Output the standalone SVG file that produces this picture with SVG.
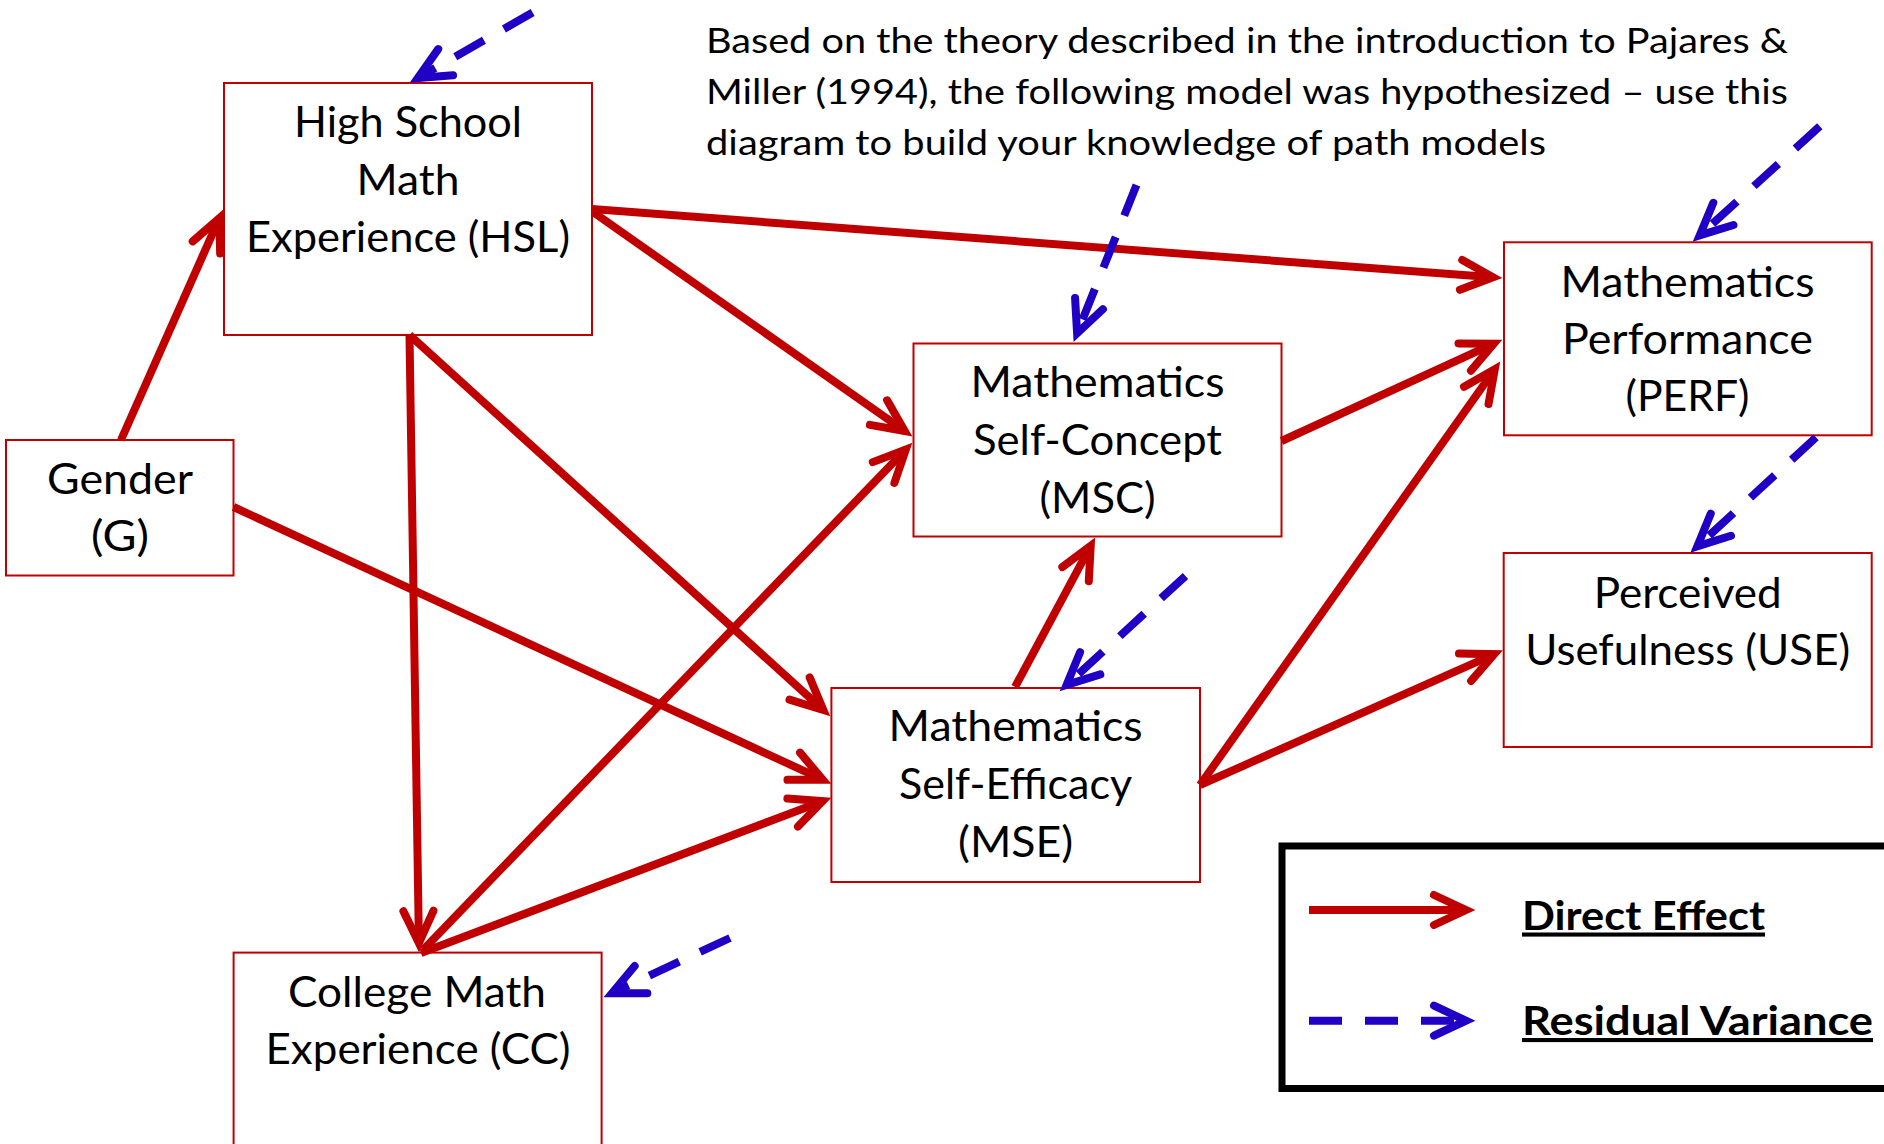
<svg xmlns="http://www.w3.org/2000/svg" width="1884" height="1144" viewBox="0 0 1884 1144">
<style>
.box{fill:#ffffff;stroke:#C00000;stroke-width:2}
.lbl{font-family:Lato,"Open Sans","DejaVu Sans",sans-serif;font-size:42px;fill:#000;text-anchor:middle}
.title{font-family:Lato,"Open Sans","DejaVu Sans",sans-serif;font-size:35px;fill:#000}
.leg{font-family:Lato,"Open Sans","DejaVu Sans",sans-serif;font-size:41px;font-weight:bold;fill:#000;text-decoration:underline}
.direct{stroke:#C00000;stroke-width:8;fill:none;marker-end:url(#ah-red)}
.resid{stroke:#2000C4;stroke-width:8;fill:none;stroke-dasharray:33 23;marker-end:url(#ah-blue)}
.legbox{fill:none;stroke:#000;stroke-width:7}
</style>
<defs>
<marker id="ah-red" markerUnits="userSpaceOnUse" viewBox="-50 -25 70 50" markerWidth="70" markerHeight="50" refX="0" refY="0" orient="auto" overflow="visible">
<path d="M -32 -15 L 0 0 L -32 15" fill="none" stroke="#C00000" stroke-width="8" stroke-linecap="round" stroke-linejoin="miter" stroke-dasharray="none"/>
</marker>
<marker id="ah-blue" markerUnits="userSpaceOnUse" viewBox="-50 -25 70 50" markerWidth="70" markerHeight="50" refX="0" refY="0" orient="auto" overflow="visible">
<path d="M -32 -15 L 0 0 L -32 15" fill="none" stroke="#2000C4" stroke-width="8" stroke-linecap="round" stroke-linejoin="miter" stroke-dasharray="none"/>
</marker>
</defs>
<rect width="1884" height="1144" fill="#ffffff"/>

<g id="title">
<text class="title" x="706" y="53" textLength="1082" lengthAdjust="spacingAndGlyphs">Based on the theory described in the introduction to Pajares &amp;</text>
<text class="title" x="706" y="104" textLength="1082" lengthAdjust="spacingAndGlyphs">Miller (1994), the following model was hypothesized – use this</text>
<text class="title" x="706" y="155" textLength="840" lengthAdjust="spacingAndGlyphs">diagram to build your knowledge of path models</text>
</g>

<g id="node-HSL">
<rect class="box" x="224" y="83" width="368" height="252"/>
<text class="lbl" x="408" y="137" textLength="228" lengthAdjust="spacingAndGlyphs">High School</text>
<text class="lbl" x="408" y="194.5" textLength="103" lengthAdjust="spacingAndGlyphs">Math</text>
<text class="lbl" x="408" y="252" textLength="324" lengthAdjust="spacingAndGlyphs">Experience (HSL)</text>
</g>

<g id="node-G">
<rect class="box" x="6" y="440" width="227.5" height="135.5"/>
<text class="lbl" x="120" y="494" textLength="146" lengthAdjust="spacingAndGlyphs">Gender</text>
<text class="lbl" x="120" y="551" textLength="58" lengthAdjust="spacingAndGlyphs">(G)</text>
</g>

<g id="node-MSC">
<rect class="box" x="913.5" y="343.5" width="368" height="193"/>
<text class="lbl" x="1097.5" y="397" textLength="254" lengthAdjust="spacingAndGlyphs">Mathematics</text>
<text class="lbl" x="1097.5" y="455" textLength="249" lengthAdjust="spacingAndGlyphs">Self-Concept</text>
<text class="lbl" x="1097.5" y="513" textLength="116" lengthAdjust="spacingAndGlyphs">(MSC)</text>
</g>

<g id="node-PERF">
<rect class="box" x="1504" y="242.3" width="367.7" height="193"/>
<text class="lbl" x="1687.5" y="297" textLength="254" lengthAdjust="spacingAndGlyphs">Mathematics</text>
<text class="lbl" x="1687.5" y="354" textLength="251" lengthAdjust="spacingAndGlyphs">Performance</text>
<text class="lbl" x="1687.5" y="411" textLength="124" lengthAdjust="spacingAndGlyphs">(PERF)</text>
</g>

<g id="node-USE">
<rect class="box" x="1503.7" y="553" width="368" height="194"/>
<text class="lbl" x="1687.7" y="608" textLength="188" lengthAdjust="spacingAndGlyphs">Perceived</text>
<text class="lbl" x="1687.7" y="665" textLength="325" lengthAdjust="spacingAndGlyphs">Usefulness (USE)</text>
</g>

<g id="node-MSE">
<rect class="box" x="831.4" y="688" width="368.6" height="194"/>
<text class="lbl" x="1015.6" y="741" textLength="254" lengthAdjust="spacingAndGlyphs">Mathematics</text>
<text class="lbl" x="1015.6" y="799" textLength="233" lengthAdjust="spacingAndGlyphs">Self-Efficacy</text>
<text class="lbl" x="1015.6" y="857" textLength="115" lengthAdjust="spacingAndGlyphs">(MSE)</text>
</g>

<g id="node-CC">
<rect class="box" x="233.6" y="952.6" width="368" height="250"/>
<text class="lbl" x="417" y="1007" textLength="258" lengthAdjust="spacingAndGlyphs">College Math</text>
<text class="lbl" x="418" y="1064" textLength="305" lengthAdjust="spacingAndGlyphs">Experience (CC)</text>
</g>

<g id="connectors">
<line class="direct" x1="121" y1="440" x2="219.4" y2="218.2"/>
<line class="direct" x1="592" y1="209" x2="1493" y2="277.3"/>
<line class="direct" x1="593" y1="212" x2="904.7" y2="431"/>
<line class="direct" x1="409.5" y1="335" x2="418.9" y2="943"/>
<line class="direct" x1="409.5" y1="335" x2="823.3" y2="710"/>
<line class="direct" x1="233.5" y1="507" x2="822.8" y2="779.7"/>
<line class="direct" x1="421" y1="953" x2="822.6" y2="801.2"/>
<line class="direct" x1="423" y1="950" x2="905.8" y2="449.5"/>
<line class="direct" x1="1015" y1="687" x2="1090.7" y2="545.9"/>
<line class="direct" x1="1281.5" y1="441" x2="1493.8" y2="343.7"/>
<line class="direct" x1="1200" y1="785" x2="1494.8" y2="369.3"/>
<line class="direct" x1="1200" y1="785" x2="1494.3" y2="654.2"/>
<line class="resid" x1="532.6" y1="12.6" x2="417.8" y2="78"/>
<line class="resid" x1="1136.5" y1="185" x2="1077.1" y2="333.3"/>
<line class="resid" x1="1819.8" y1="126.3" x2="1699.7" y2="235.4"/>
<line class="resid" x1="1816" y1="437.4" x2="1697.3" y2="546.4"/>
<line class="resid" x1="1185.5" y1="576" x2="1066.6" y2="684.9"/>
<line class="resid" x1="730" y1="938" x2="612" y2="993.2"/>
</g>

<g id="legend">
<rect class="legbox" x="1282" y="846" width="640" height="242.5"/>
<line class="direct" x1="1309" y1="910" x2="1466" y2="910"/>
<line class="resid" x1="1309" y1="1020.7" x2="1466" y2="1020.7"/>
<text class="leg" x="1522" y="929.5" textLength="243" lengthAdjust="spacingAndGlyphs">Direct Effect</text>
<text class="leg" x="1522" y="1035" textLength="351" lengthAdjust="spacingAndGlyphs">Residual Variance</text>
</g>
</svg>
